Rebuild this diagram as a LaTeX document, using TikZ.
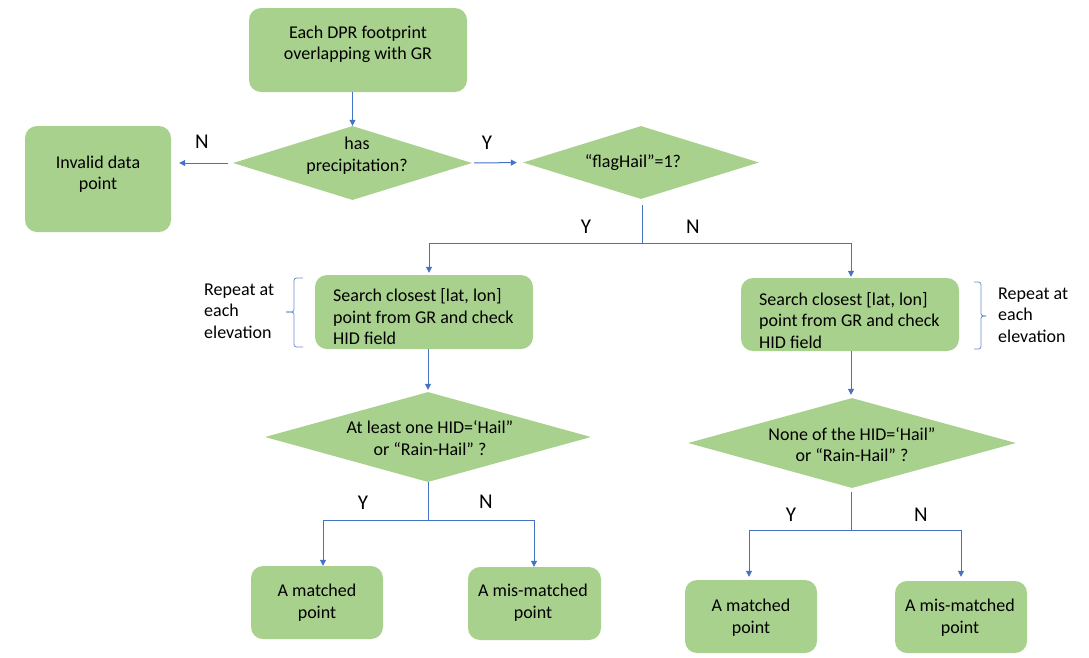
\documentclass[tikz,border=0pt]{standalone}
\usepackage{fontspec}
\setmainfont{Carlito}
\usetikzlibrary{shapes.geometric,arrows.meta}
\definecolor{boxgreen}{HTML}{A9D18E}
\definecolor{linkblue}{HTML}{4472C4}
\tikzset{
  box/.style={draw=none, fill=boxgreen, rounded corners=12pt, inner sep=0pt},
  dia/.style={diamond, draw=none, fill=boxgreen, inner sep=0pt},
  txt/.style={font=\fontsize{18}{21.5}\selectfont, align=center, inner sep=0pt, text=black},
  ltxt/.style={font=\fontsize{18}{21.5}\selectfont, align=left, anchor=west, inner sep=0pt, text=black},
  yn/.style={font=\fontsize{21}{24}\selectfont, inner sep=0pt, text=black},
  conn/.style={draw=linkblue, line width=1pt},
  arr/.style={conn, -{Triangle[length=6pt,width=6pt]}},
  brk/.style={draw=linkblue!80, line width=0.8pt, rounded corners=2.5pt},
}
\begin{document}
\begin{tikzpicture}[x=1pt,y=-1pt]
\useasboundingbox (0,0) rectangle (1089,657);
% boxes
\node[box, minimum width=218pt, minimum height=84pt] (top) at (358,50) {};
\node[txt] (topt) at (358,44.5) {Each DPR footprint\\overlapping with GR};
\node[dia, minimum width=239pt, minimum height=74pt] (d1) at (352.5,163) {};
\node[txt] (d1t) at (357,155.5) {has\\precipitation?};
\node[box, minimum width=146pt, minimum height=106pt] (inv) at (98,179) {};
\node[txt] (invt) at (98,174) {Invalid data\\point};
\node[dia, minimum width=236pt, minimum height=73pt] (d2) at (641,162.5) {};
\node[txt] (d2t) at (633,163) {“flagHail”=1?};
\node[box, minimum width=218pt, minimum height=74pt] (s1) at (424,312) {};
\node[ltxt] (s1t) at (333,317) {Search closest [lat, lon]\\point from GR and check\\HID field};
\node[box, minimum width=218pt, minimum height=73pt] (s2) at (850,314.5) {};
\node[ltxt] (s2t) at (759,320.5) {Search closest [lat, lon]\\point from GR and check\\HID field};
\node[dia, minimum width=326pt, minimum height=90pt] (d3) at (428,437) {};
\node[txt] (d3t) at (430,438) {At least one HID=‘Hail”\\or “Rain-Hail” ?};
\node[dia, minimum width=328pt, minimum height=90pt] (d4) at (852,443) {};
\node[txt] (d4t) at (852,444.5) {None of the HID=‘Hail”\\or “Rain-Hail” ?};
\node[box, minimum width=132pt, minimum height=73pt] (b1) at (317,602.5) {};
\node[txt] (b1t) at (317,602.5) {A matched\\point};
\node[box, minimum width=133pt, minimum height=73pt] (b2) at (534.5,603.5) {};
\node[txt] (b2t) at (533,602.5) {A mis-matched\\point};
\node[box, minimum width=132pt, minimum height=73pt] (b3) at (751,616.5) {};
\node[txt] (b3t) at (751,617.5) {A matched\\point};
\node[box, minimum width=132pt, minimum height=72pt] (b4) at (961,617) {};
\node[txt] (b4t) at (960,617.5) {A mis-matched\\point};
% side notes
\node[ltxt] (rep1) at (204,311) {Repeat at\\each\\elevation};
\node[ltxt] (rep2) at (998,315) {Repeat at\\each\\elevation};
\draw[brk] (303,278) -- (294,278) -- (294,312) -- (286,312);
\draw[brk] (286,312) -- (294,312) -- (294,347) -- (303,347);
\draw[brk] (974,282) -- (981,282) -- (981,316) -- (986,316);
\draw[brk] (986,316) -- (981,316) -- (981,349) -- (974,349);
% junction coordinates
\coordinate (j2) at (642,243);
\coordinate (j3) at (428,520);
\coordinate (j4) at (851,530);
% connectors
\draw[arr] (d1.north |- top.south) -- (d1.north);
\draw[arr, shorten <=5pt, shorten >=8pt] (d1.west) -- (inv.east |- d1.west);
\draw[arr, shorten <=2pt, shorten >=6pt] (d1.east) -- (d2.west);
\draw[conn, shorten <=6pt] (d2.south -| j2) -- (j2);
\draw[arr, shorten >=2pt] (j2) -| ([xshift=5pt]s1.north);
\draw[arr, shorten >=1pt] (j2) -| ([xshift=1pt]s2.north);
\draw[arr, shorten >=2pt] (d3.north |- s1.south) -- (d3.north);
\draw[conn] (d3.south) -- (j3);
\draw[arr] (j3) -| ([xshift=6pt]b1.north);
\draw[arr] (j3) -| ([xshift=-0.5pt]b2.north);
\draw[arr, shorten >=3pt] (j4 |- s2.south) -- (j4 |- d4.north);
\draw[conn, shorten <=4pt] (j4 |- d4.south) -- (j4);
\draw[arr, shorten >=3pt] (j4) -| ([xshift=-2pt]b3.north);
\draw[arr, shorten >=4pt] (j4) -| (b4.north);
% labels
\node[yn] (n1) at (202,142) {N};
\node[yn] (y1) at (487,143) {Y};
\node[yn] (y2) at (586,227) {Y};
\node[yn] (n2) at (693,227) {N};
\node[yn] (y3) at (363,503) {Y};
\node[yn] (n3) at (486,502) {N};
\node[yn] (y4) at (791,515) {Y};
\node[yn] (n4) at (921,515) {N};
\end{tikzpicture}
\end{document}
